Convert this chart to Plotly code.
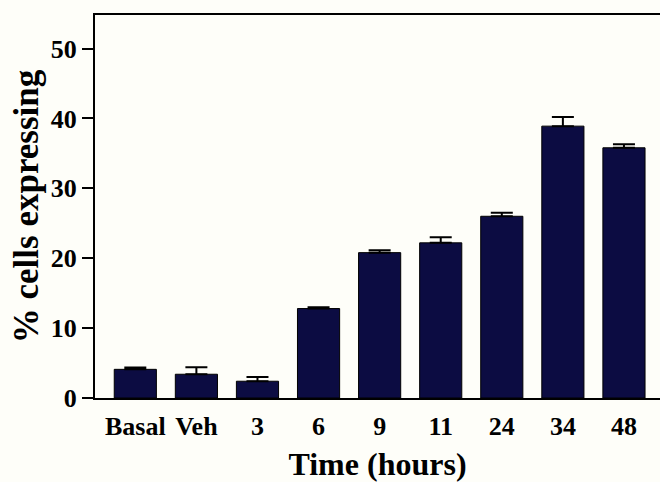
import plotly.graph_objects as go

categories = ["Basal", "Veh", "3", "6", "9", "11", "24", "34", "48"]
values = [4.1, 3.4, 2.4, 12.8, 20.8, 22.2, 26.0, 38.9, 35.8]
errors = [0.25, 1.0, 0.6, 0.2, 0.35, 0.8, 0.5, 1.3, 0.5]
y_ticks = [0, 10, 20, 30, 40, 50]

font_family = "Liberation Serif, Times New Roman, serif"

fig = go.Figure()
fig.add_trace(go.Bar(
    x=categories,
    y=values,
    width=0.69,
    marker=dict(color="#0c0c42", line=dict(color="#000000", width=1)),
    error_y=dict(
        type="data",
        array=errors,
        arrayminus=[0] * len(errors),
        symmetric=False,
        color="#000000",
        thickness=2,
        width=11,
    ),
    showlegend=False,
))

fig.update_layout(
    width=660,
    height=482,
    margin=dict(l=95, r=0, t=15, b=84),
    paper_bgcolor="#fefef9",
    plot_bgcolor="#fefef9",
    bargap=0.3,
    font=dict(family=font_family, color="#000000"),
)

fig.update_xaxes(
    type="category",
    range=[-0.66, 8.59],
    showline=True,
    linecolor="#000000",
    linewidth=2,
    mirror=True,
    ticks="",
    ticklabelstandoff=4,
    tickfont=dict(family=font_family, size=26, weight="bold"),
    title=dict(text="Time (hours)", font=dict(family=font_family, size=32, weight="bold"), standoff=14),
    showgrid=False,
    automargin=False,
)

fig.update_yaxes(
    range=[0, 54.8],
    tickvals=y_ticks,
    showline=True,
    linecolor="#000000",
    linewidth=2,
    ticks="outside",
    ticklen=11,
    tickwidth=2,
    tickcolor="#000000",
    tickfont=dict(family=font_family, size=26, weight="bold"),
    title=dict(text="% cells expressing", font=dict(family=font_family, size=35, weight="bold"), standoff=2),
    showgrid=False,
    zeroline=False,
    automargin=False,
)

fig.write_html(
    "out.html",
    config={"displayModeBar": False},
    post_script="document.body.style.margin='0';document.body.style.overflow='hidden';",
)
